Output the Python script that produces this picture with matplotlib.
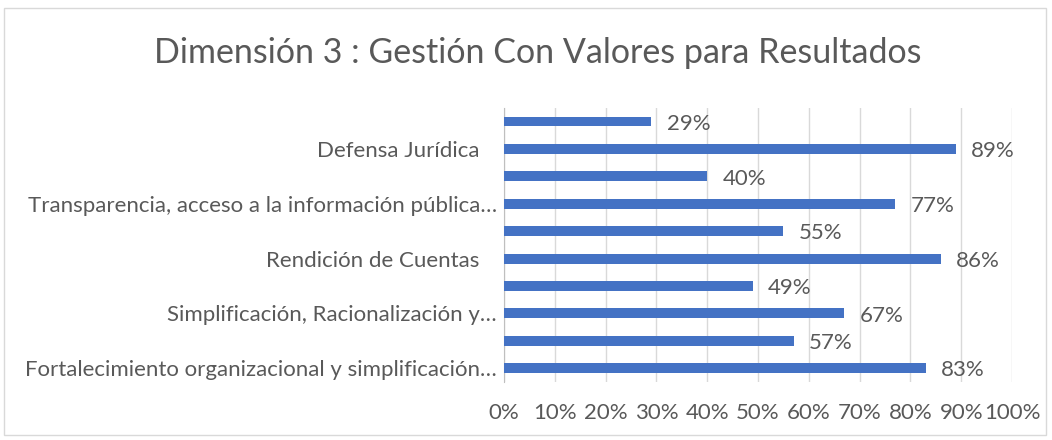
import matplotlib.pyplot as plt
from matplotlib.patches import Rectangle

plt.rcParams['font.family'] = ['Lato', 'DejaVu Sans']

# bottom to top, as drawn by the chart
labels = ['Fortalecimiento organizacional y simplificación…', '',
          'Simplificación, Racionalización y…', '',
          'Rendición de Cuentas   ', '',
          'Transparencia, acceso a la información pública…', '',
          'Defensa Jurídica   ', '']
values = [0.83, 0.57, 0.67, 0.49, 0.86, 0.55, 0.77, 0.40, 0.89, 0.29]
xticks = [0, 0.1, 0.2, 0.3, 0.4, 0.5, 0.6, 0.7, 0.8, 0.9, 1.0]

text_c = '#595959'
bar_c = '#4472C4'

fig = plt.figure(figsize=(10.52, 4.4), dpi=100)
fig.patches.append(Rectangle((0.004, 0.012), 0.99, 0.97, transform=fig.transFigure,
                             fill=False, edgecolor='#d9d9d9', linewidth=1))
ax = fig.add_axes([0.479, 0.132, 0.483, 0.623])

pos = range(len(values))
ax.barh(pos, values, height=0.36, color=bar_c, zorder=3)
for y, v in zip(pos, values):
    ax.text(v + 0.03, y - 0.08, f'{v:.0%}', va='center', ha='left',
            fontsize=16, color=text_c)

ax.set_xlim(0, 1.0)
ax.set_ylim(-0.5, len(values) - 0.5)
ax.set_xticks(xticks)
ax.set_xticklabels([f'{t:.0%}' for t in xticks])
ax.set_yticks(list(pos))
ax.set_yticklabels(labels)
ax.tick_params(axis='both', length=0, labelsize=16, labelcolor=text_c)
ax.tick_params(axis='x', pad=15)
ax.tick_params(axis='y', pad=5)
ax.grid(axis='x', color='#d9d9d9', linewidth=1, zorder=0)
for s in ['top', 'right', 'bottom']:
    ax.spines[s].set_visible(False)
ax.spines['left'].set_color('#bfbfbf')

fig.text(0.511, 0.88, 'Dimensión 3 : Gestión Con Valores para Resultados',
         ha='center', va='center', fontsize=24.5, color=text_c)

fig.savefig('out.png', dpi=100)
